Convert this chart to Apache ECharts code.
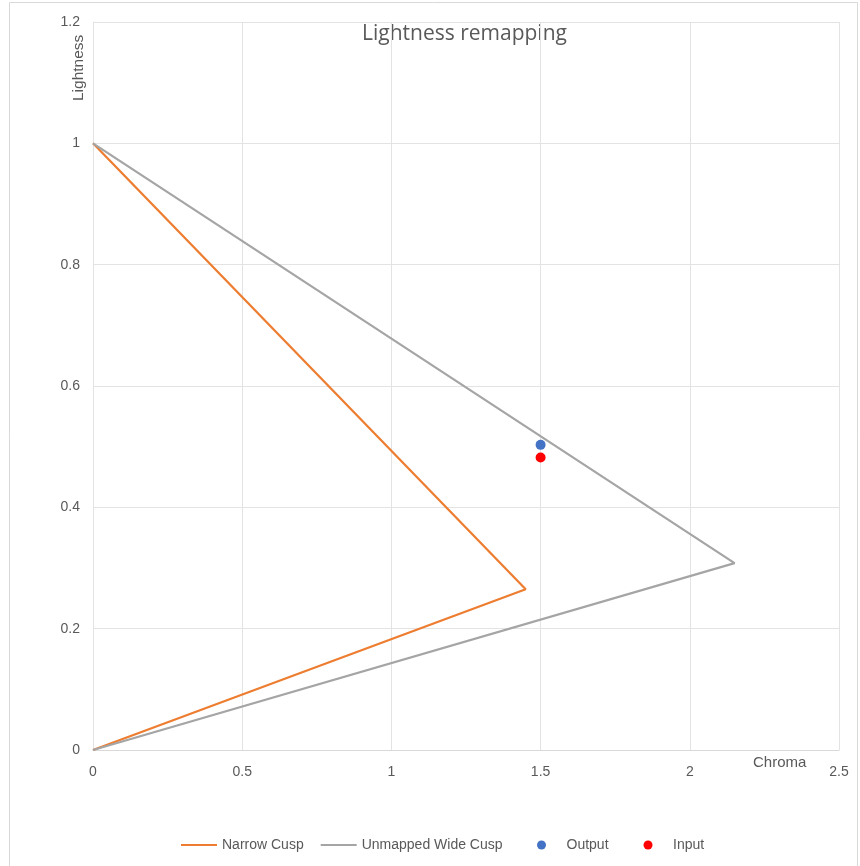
<!DOCTYPE html>
<html>
<head>
<meta charset="utf-8">
<script src="https://cdn.jsdelivr.net/npm/echarts@6/dist/echarts.min.js"></script>
<style>
  html, body { margin: 0; padding: 0; background: #ffffff; }
  #chart { width: 860px; height: 866px; }
</style>
</head>
<body>
<div id="chart"></div>
<script>
// Gamut boundary polylines: (chroma, lightness)
const narrowCusp = [[0, 1], [1.45, 0.265], [0, 0]];
const wideCusp = [[0, 1], [2.15, 0.308], [0, 0]];
// Sample colour before and after remapping
const outputPoint = [[1.5, 0.503]];
const inputPoint = [[1.5, 0.482]];

const xTicks = { min: 0, max: 2.5, interval: 0.5 };
const yTicks = { min: 0, max: 1.2, interval: 0.2 };

const FONT = "'Liberation Sans', sans-serif";
const TEXT = '#595959';
const GRID = '#e3e3e3';
const LINE_ICON = 'path://M0,0 L36,0 L36,2 L0,2 Z';

const chart = echarts.init(document.getElementById('chart'), null, { renderer: 'canvas' });

chart.setOption({
  backgroundColor: '#ffffff',
  animation: false,
  textStyle: { fontFamily: FONT, color: TEXT },
  graphic: [
    { type: 'rect', shape: { x: 9.5, y: 2.5, width: 848, height: 870 },
      style: { fill: 'none', stroke: '#d9d9d9', lineWidth: 1 }, silent: true },
    { type: 'text', left: 362, top: 24,
      style: { text: 'Lightness remapping', font: "21px 'Open Sans', sans-serif", fill: TEXT } },
    { type: 'text', x: 71, y: 101, rotation: Math.PI / 2,
      style: { text: 'Lightness', font: '15.5px ' + FONT, fill: TEXT } },
    { type: 'text', left: 753, top: 755,
      style: { text: 'Chroma', font: '15px ' + FONT, fill: TEXT } }
  ],
  grid: { left: 93, top: 22, right: 21, bottom: 116, containLabel: false },
  xAxis: {
    type: 'value',
    min: xTicks.min, max: xTicks.max, interval: xTicks.interval,
    axisLine: { show: true, lineStyle: { color: '#d9d9d9', width: 1 } },
    axisTick: { show: false },
    axisLabel: { color: TEXT, fontSize: 14, margin: 15, fontFamily: FONT,
      showMaxLabel: true, showMinLabel: true },
    splitLine: { show: true, lineStyle: { color: GRID, width: 1 } }
  },
  yAxis: {
    type: 'value',
    min: yTicks.min, max: yTicks.max, interval: yTicks.interval,
    axisLine: { show: true, lineStyle: { color: '#e3e3e3', width: 1 } },
    axisTick: { show: false },
    axisLabel: { color: TEXT, fontSize: 14, margin: 13, fontFamily: FONT,
      formatter: v => String(Math.round(v * 10) / 10) },
    splitLine: { show: true, lineStyle: { color: GRID, width: 1 } }
  },
  legend: [
    {
      data: [
        { name: 'Narrow Cusp', icon: LINE_ICON },
        { name: 'Unmapped Wide Cusp', icon: LINE_ICON }
      ],
      left: 176, top: 833, itemWidth: 36, itemHeight: 2, itemGap: 17,
      textStyle: { color: TEXT, fontSize: 14, fontFamily: FONT }
    },
    {
      data: ['Output', 'Input'],
      left: 532, top: 833, itemWidth: 40, itemHeight: 9, itemGap: 35,
      icon: 'circle',
      textStyle: { color: TEXT, fontSize: 14, fontFamily: FONT }
    }
  ],
  series: [
    { name: 'Narrow Cusp', type: 'line', data: narrowCusp, symbol: 'none',
      lineStyle: { color: '#ED7D31', width: 2.25 }, itemStyle: { color: '#ED7D31' } },
    { name: 'Unmapped Wide Cusp', type: 'line', data: wideCusp, symbol: 'none',
      lineStyle: { color: '#A5A5A5', width: 2.25 }, itemStyle: { color: '#A5A5A5' } },
    { name: 'Output', type: 'scatter', data: outputPoint, symbolSize: 10,
      itemStyle: { color: '#4472C4', opacity: 1 } },
    { name: 'Input', type: 'scatter', data: inputPoint, symbolSize: 10,
      itemStyle: { color: '#FF0000', opacity: 1 } }
  ]
});
</script>
</body>
</html>
